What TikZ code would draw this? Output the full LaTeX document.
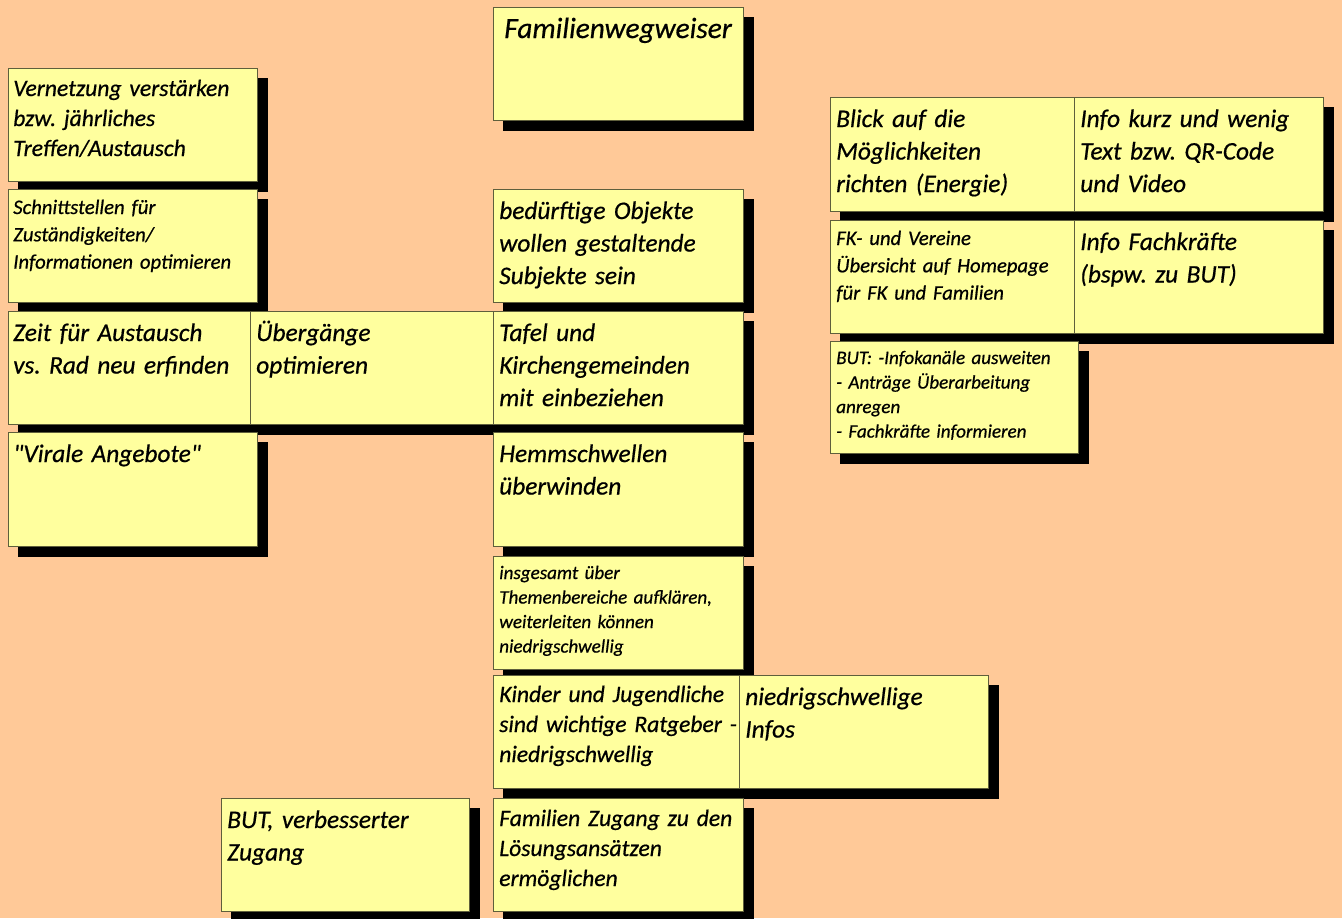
\documentclass[tikz,border=0pt]{standalone}
\usepackage{fontspec}
\setmainfont{Carlito}
\newfontfamily\notefont{Carlito}[FakeBold=0.6]
\frenchspacing
\pgfdeclarelayer{bg}
\pgfdeclarelayer{shade}
\pgfsetlayers{bg,shade,main}
\definecolor{peach}{RGB}{255,201,152}
\definecolor{notefill}{RGB}{255,255,158}
\definecolor{noteline}{RGB}{95,95,60}
\newcommand\fsTitle{\fontsize{22pt}{28pt}\selectfont}
\newcommand\fsBig{\fontsize{19pt}{24.4pt}\selectfont}
\newcommand\fsMed{\fontsize{17.7pt}{22.5pt}\selectfont}
\newcommand\fsSmall{\fontsize{15.5pt}{20.5pt}\selectfont}
\newcommand\fsTiny{\fontsize{14.3pt}{18.4pt}\selectfont}
\tikzset{
  x=0.75pt, y=-0.75pt,
  note/.style={rectangle, draw=noteline, fill=notefill, line width=0.75pt, inner sep=0pt, anchor=north west},
  txt/.style={anchor=base west, inner sep=0pt, align=left, text width=240pt},
  shadowbox/.style={fill=black},
}
\newcommand\stickynote[5]{\node[note, minimum width=#4*0.75pt, minimum height=#5*0.75pt] (#1) at (#2,#3) {};}
\begin{document}
\begin{tikzpicture}
\useasboundingbox (0,0) rectangle (1342,918);
\begin{pgfonlayer}{bg}
  \fill[peach] (0,0) rectangle (1342,918);
\end{pgfonlayer}
% boxes
\stickynote{fam}{493}{7}{250}{113}
\stickynote{vern}{8}{68}{249}{113}
\stickynote{schn}{8}{189}{249}{113}
\stickynote{bed}{493}{189}{250}{113}
\stickynote{zeit}{8}{311}{242}{113}
\stickynote{ueb}{250}{311}{243}{113}
\stickynote{tafel}{493}{311}{250}{113}
\stickynote{viral}{8}{432}{249}{114}
\stickynote{hemm}{493}{432}{250}{114}
\stickynote{insg}{493}{556}{250}{113}
\stickynote{kind}{493}{675}{246}{113}
\stickynote{nied}{739}{675}{249}{113}
\stickynote{famz}{493}{798}{250}{113}
\stickynote{butv}{221}{798}{248}{113}
\stickynote{blick}{830}{97}{244}{114}
\stickynote{infok}{1074}{97}{249}{114}
\stickynote{fk}{830}{220}{244}{113}
\stickynote{infof}{1074}{220}{249}{113}
\stickynote{buti}{830}{341}{248}{112}
% shadows
\begin{pgfonlayer}{shade}
\foreach \n in {fam,vern,schn,bed,zeit,ueb,tafel,viral,hemm,insg,kind,nied,famz,butv,blick,infok,fk,infof,buti}
  \fill[shadowbox] ([shift={(10,10)}]\n.north west) rectangle ([shift={(10,10)}]\n.south east);
\end{pgfonlayer}
% texts
\node[txt, font=\notefont\itshape\fsTitle] (famt) at ([shift={(11,31)}]fam.north west) {Familienwegweiser};
\node[txt, font=\notefont\itshape\fsMed] (vernt) at ([shift={(5,28)}]vern.north west) {Vernetzung verstärken\\bzw. jährliches\\Treffen/Austausch};
\node[txt, font=\notefont\itshape\fsSmall] (schnt) at ([shift={(5,25)}]schn.north west) {Schnittstellen für\\Zuständigkeiten/\\Informationen optimieren};
\node[txt, font=\notefont\itshape\fsBig] (bedt) at ([shift={(6,30)}]bed.north west) {bedürftige Objekte\\wollen gestaltende\\Subjekte sein};
\node[txt, font=\notefont\itshape\fsBig] (zeitt) at ([shift={(5,30)}]zeit.north west) {Zeit für Austausch\\vs. Rad neu erfinden};
\node[txt, font=\notefont\itshape\fsBig] (uebt) at ([shift={(6,30)}]ueb.north west) {Übergänge\\optimieren};
\node[txt, font=\notefont\itshape\fsBig] (tafelt) at ([shift={(6,30)}]tafel.north west) {Tafel und\\Kirchengemeinden\\mit einbeziehen};
\node[txt, font=\notefont\itshape\fsBig] (viralt) at ([shift={(5,30)}]viral.north west) {\char34 Virale Angebote\char34};
\node[txt, font=\notefont\itshape\fsBig] (hemmt) at ([shift={(6,30)}]hemm.north west) {Hemmschwellen\\überwinden};
\node[txt, font=\notefont\itshape\fsTiny] (insgt) at ([shift={(6,23)}]insg.north west) {insgesamt über\\Themenbereiche aufklären,\\weiterleiten können\\niedrigschwellig};
\node[txt, font=\notefont\itshape\fsMed] (kindt) at ([shift={(6,27)}]kind.north west) {Kinder und Jugendliche\\sind wichtige Ratgeber -\\niedrigschwellig};
\node[txt, font=\notefont\itshape\fsBig] (niedt) at ([shift={(6,30)}]nied.north west) {niedrigschwellige\\Infos};
\node[txt, font=\notefont\itshape\fsMed] (famzt) at ([shift={(6,28)}]famz.north west) {Familien Zugang zu den\\Lösungsansätzen\\ermöglichen};
\node[txt, font=\notefont\itshape\fsBig] (butvt) at ([shift={(6,30)}]butv.north west) {BUT, verbesserter\\Zugang};
\node[txt, font=\notefont\itshape\fsBig] (blickt) at ([shift={(6,30)}]blick.north west) {Blick auf die\\Möglichkeiten\\richten (Energie)};
\node[txt, font=\notefont\itshape\fsBig] (infokt) at ([shift={(6,30)}]infok.north west) {Info kurz und wenig\\Text bzw. QR-Code\\und Video};
\node[txt, font=\notefont\itshape\fsSmall] (fkt) at ([shift={(6,25)}]fk.north west) {FK- und Vereine\\Übersicht auf Homepage\\für FK und Familien};
\node[txt, font=\notefont\itshape\fsBig] (infoft) at ([shift={(6,30)}]infof.north west) {Info Fachkräfte\\(bspw. zu BUT)};
\node[txt, font=\notefont\itshape\fsTiny] (butit) at ([shift={(6,23)}]buti.north west) {BUT: -Infokanäle ausweiten\\- Anträge Überarbeitung\\anregen\\- Fachkräfte informieren};
\end{tikzpicture}
\end{document}
